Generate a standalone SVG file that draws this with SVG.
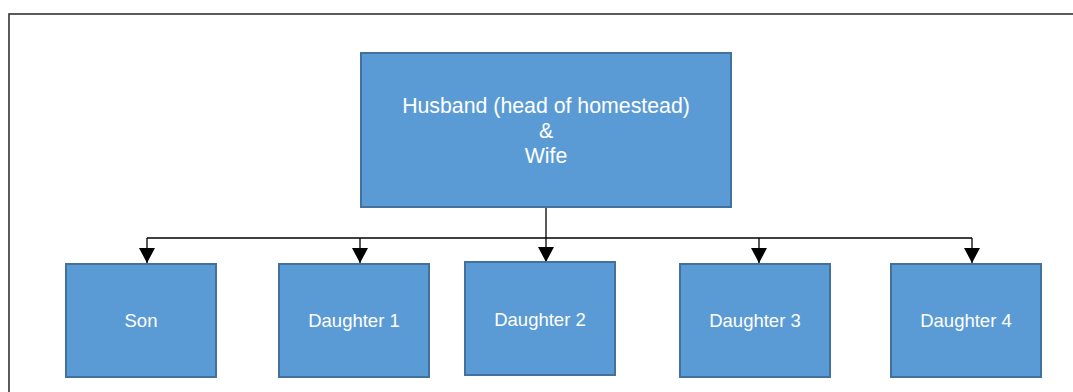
<svg xmlns="http://www.w3.org/2000/svg" width="1073" height="392" viewBox="0 0 1073 392">
<style>
.box{fill:#5b9bd5;stroke:#41719c;stroke-width:2}
.lbl{fill:#ffffff;font-family:"Liberation Sans",Arial,sans-serif;font-size:18.5px;text-anchor:middle}
.top{font-size:21.3px}
.conn{fill:none;stroke:#000;stroke-width:1.3}
</style>
<defs>
<marker id="arr" viewBox="0 0 15 16" refX="15" refY="8" markerWidth="15" markerHeight="16" markerUnits="userSpaceOnUse" orient="auto">
<path d="M0,0 L15,8 L0,16 Z" fill="#000"/>
</marker>
</defs>
<rect x="9" y="14" width="1080" height="400" fill="#ffffff" stroke="#333333" stroke-width="1.6"/>
<g id="connectors">
<path class="conn" d="M546,207 V238"/>
<path class="conn" d="M147,238 H972"/>
<path class="conn" d="M147,238 V263" marker-end="url(#arr)"/>
<path class="conn" d="M360,238 V263" marker-end="url(#arr)"/>
<path class="conn" d="M546,238 V262" marker-end="url(#arr)"/>
<path class="conn" d="M759,238 V263" marker-end="url(#arr)"/>
<path class="conn" d="M972,238 V263" marker-end="url(#arr)"/>
</g>
<g id="parents">
<rect class="box" x="361" y="53" width="370" height="154"/>
<text class="lbl top" x="546" y="113">Husband (head of homestead)</text>
<text class="lbl top" x="546" y="138">&amp;</text>
<text class="lbl top" x="546" y="163">Wife</text>
</g>
<g id="son">
<rect class="box" x="66" y="264" width="150" height="113"/>
<text class="lbl" x="141" y="327">Son</text>
</g>
<g id="daughter1">
<rect class="box" x="279" y="264" width="150" height="113"/>
<text class="lbl" x="354" y="327">Daughter 1</text>
</g>
<g id="daughter2">
<rect class="box" x="465" y="262" width="150" height="113"/>
<text class="lbl" x="540" y="326">Daughter 2</text>
</g>
<g id="daughter3">
<rect class="box" x="680" y="264" width="150" height="113"/>
<text class="lbl" x="755" y="327">Daughter 3</text>
</g>
<g id="daughter4">
<rect class="box" x="891" y="264" width="150" height="113"/>
<text class="lbl" x="966" y="327">Daughter 4</text>
</g>
</svg>
